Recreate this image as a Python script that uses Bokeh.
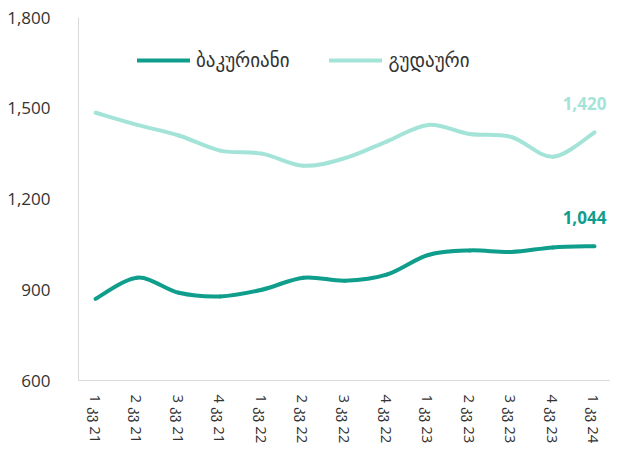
import math
from bokeh.plotting import figure
from bokeh.models import Range1d, FixedTicker, Legend, LegendItem, ColumnDataSource, NumeralTickFormatter
from bokeh.core.properties import value
from bokeh.embed import file_html
from bokeh.resources import INLINE

quarters = ["1 კვ 21", "2 კვ 21", "3 კვ 21", "4 კვ 21", "1 კვ 22", "2 კვ 22", "3 კვ 22",
            "4 კვ 22", "1 კვ 23", "2 კვ 23", "3 კვ 23", "4 კვ 23", "1 კვ 24"]
bakuriani = [870, 940, 890, 878, 900, 940, 930, 950, 1015, 1030, 1025, 1040, 1044]
gudauri = [1485, 1445, 1410, 1360, 1350, 1310, 1335, 1390, 1445, 1415, 1405, 1340, 1420]
series_names = ["ბაკურიანი", "გუდაური"]
colors = ["#0f9d8c", "#a4e4d8"]
y_ticks = [600, 900, 1200, 1500, 1800]

FONT = "Open Sans, DejaVu Sans"

p = figure(width=610, height=446, output_backend="svg", toolbar_location=None,
           x_range=Range1d(-0.41, 12.385), y_range=Range1d(600, 1800),
           min_border_left=78, min_border_bottom=66, min_border_top=17, min_border_right=0)
p.outline_line_color = None
p.xgrid.visible = False
p.ygrid.visible = False
p.background_fill_color = "white"


def bezier_source(vals):
    n = len(vals)
    xs = list(range(n))
    x0, y0, x1, y1, cx0, cy0, cx1, cy1 = [], [], [], [], [], [], [], []
    t = 1.0 / 6.0
    for i in range(n - 1):
        xm1, ym1 = (xs[i - 1], vals[i - 1]) if i > 0 else (xs[i], vals[i])
        xp2, yp2 = (xs[i + 2], vals[i + 2]) if i + 2 < n else (xs[i + 1], vals[i + 1])
        x0.append(xs[i]); y0.append(vals[i])
        x1.append(xs[i + 1]); y1.append(vals[i + 1])
        cx0.append(xs[i] + (xs[i + 1] - xm1) * t)
        cy0.append(vals[i] + (vals[i + 1] - ym1) * t)
        cx1.append(xs[i + 1] - (xp2 - xs[i]) * t)
        cy1.append(vals[i + 1] - (yp2 - vals[i]) * t)
    return ColumnDataSource(dict(x0=x0, y0=y0, x1=x1, y1=y1, cx0=cx0, cy0=cy0, cx1=cx1, cy1=cy1))


items = []
for vals, name, col in zip([bakuriani, gudauri], series_names, colors):
    r = p.bezier(x0="x0", y0="y0", x1="x1", y1="y1", cx0="cx0", cy0="cy0", cx1="cx1", cy1="cy1",
                 source=bezier_source(vals), line_color=col, line_width=4, line_cap="round")
    items.append(LegendItem(label=name, renderers=[r], index=0))
    last = len(vals) - 1
    p.text(x=[last], y=[vals[last]], text=[f"{vals[last]:,}"], text_color=col,
           text_font=value(FONT), text_font_style="bold", text_font_size="17px",
           text_align="center", text_baseline="bottom", y_offset=-22, x_offset=-10)

legend = Legend(items=items, orientation="horizontal", location=(59, 307),
                border_line_color=None, background_fill_alpha=0, padding=0, margin=0,
                glyph_width=53, glyph_height=20, label_standoff=6, spacing=40,
                label_text_font=FONT, label_text_font_size="19px", label_text_color="#333333")
p.add_layout(legend, "center")

p.yaxis.ticker = FixedTicker(ticks=y_ticks)
p.yaxis.formatter = NumeralTickFormatter(format="0,0")
p.xaxis.ticker = FixedTicker(ticks=list(range(len(quarters))))
p.xaxis.major_label_overrides = {i: q for i, q in enumerate(quarters)}
p.xaxis.major_label_orientation = -math.pi / 2

for ax in (p.xaxis, p.yaxis):
    ax.axis_line_color = "#d9d9d9"
    ax.axis_line_width = 1
    ax.major_tick_line_color = None
    ax.minor_tick_line_color = None
    ax.major_label_text_font = FONT
    ax.major_label_text_color = "#333333"
p.yaxis.major_label_text_font_size = "17px"
p.yaxis.major_label_standoff = 22
p.xaxis.major_label_text_font_size = "15px"
p.xaxis.major_label_standoff = 8

open("out.html", "w").write(file_html(p, INLINE))
